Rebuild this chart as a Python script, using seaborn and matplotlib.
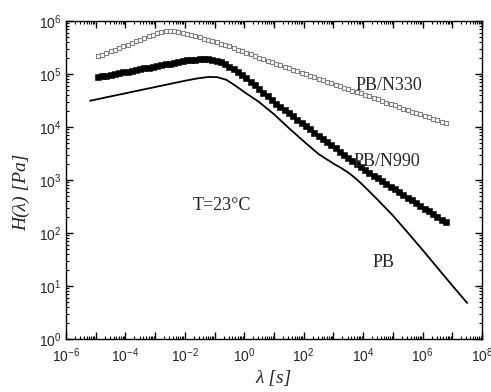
import matplotlib
matplotlib.use("Agg")
import matplotlib.pyplot as plt
import matplotlib.ticker as mticker
import numpy as np
import pandas as pd
import seaborn as sns

# ---------------- data ----------------
# relaxation times shared by the two marker series [s]
lam_markers = [
    1.18e-5, 1.63e-5, 2.27e-5, 3.15e-5, 4.38e-5, 6.09e-5, 8.46e-5,
    1.18e-4, 1.63e-4, 2.27e-4, 3.15e-4, 4.38e-4, 6.09e-4, 8.46e-4,
    1.18e-3, 1.63e-3, 2.27e-3, 3.15e-3, 4.38e-3, 6.09e-3, 8.46e-3,
    1.18e-2, 1.63e-2, 2.27e-2, 3.15e-2, 4.38e-2, 6.09e-2, 8.46e-2,
    1.18e-1, 1.63e-1, 2.27e-1, 3.15e-1, 4.38e-1, 6.09e-1, 8.46e-1,
    1.18e0, 1.63e0, 2.27e0, 3.15e0, 4.38e0, 6.09e0, 8.46e0,
    1.18e1, 1.63e1, 2.27e1, 3.15e1, 4.38e1, 6.09e1, 8.46e1,
    1.18e2, 1.63e2, 2.27e2, 3.15e2, 4.38e2, 6.09e2, 8.46e2,
    1.18e3, 1.63e3, 2.27e3, 3.15e3, 4.38e3, 6.09e3, 8.46e3,
    1.18e4, 1.63e4, 2.27e4, 3.15e4, 4.38e4, 6.09e4, 8.46e4,
    1.18e5, 1.63e5, 2.27e5, 3.15e5, 4.38e5, 6.09e5, 8.46e5,
    1.18e6, 1.63e6, 2.27e6, 3.15e6, 4.38e6, 6.09e6,
]

H_N330 = [
    2.16e5, 2.33e5, 2.50e5, 2.69e5, 2.89e5, 3.10e5, 3.34e5,
    3.59e5, 3.86e5, 4.15e5, 4.47e5, 4.79e5, 5.13e5, 5.50e5,
    5.85e5, 6.18e5, 6.40e5, 6.46e5, 6.40e5, 6.19e5, 5.94e5,
    5.68e5, 5.41e5, 5.15e5, 4.90e5, 4.65e5, 4.42e5, 4.19e5,
    3.96e5, 3.73e5, 3.52e5, 3.31e5, 3.10e5, 2.90e5, 2.72e5,
    2.54e5, 2.36e5, 2.20e5, 2.04e5, 1.91e5, 1.79e5, 1.68e5,
    1.57e5, 1.47e5, 1.38e5, 1.29e5, 1.21e5, 1.13e5, 1.06e5,
    9.91e4, 9.27e4, 8.69e4, 8.13e4, 7.62e4, 7.13e4, 6.68e4,
    6.27e4, 5.89e4, 5.52e4, 5.19e4, 4.88e4, 4.58e4, 4.31e4,
    4.04e4, 3.78e4, 3.54e4, 3.31e4, 3.10e4, 2.90e4, 2.72e4,
    2.55e4, 2.38e4, 2.23e4, 2.09e4, 1.96e4, 1.85e4, 1.73e4,
    1.63e4, 1.53e4, 1.44e4, 1.35e4, 1.26e4, 1.19e4,
]

H_N990 = [
    8.71e4, 9.02e4, 9.35e4, 9.68e4, 1.00e5, 1.04e5, 1.08e5,
    1.11e5, 1.15e5, 1.19e5, 1.24e5, 1.28e5, 1.32e5, 1.37e5,
    1.42e5, 1.47e5, 1.52e5, 1.57e5, 1.63e5, 1.69e5, 1.75e5,
    1.80e5, 1.84e5, 1.87e5, 1.92e5, 1.91e5, 1.91e5, 1.86e5,
    1.77e5, 1.66e5, 1.52e5, 1.38e5, 1.22e5, 1.08e5, 9.51e4,
    8.28e4, 7.11e4, 6.11e4, 5.25e4, 4.47e4, 3.78e4, 3.21e4,
    2.76e4, 2.40e4, 2.09e4, 1.82e4, 1.58e4, 1.37e4, 1.19e4,
    1.04e4, 9.04e3, 7.85e3, 6.84e3, 5.97e3, 5.20e3, 4.53e3,
    3.94e3, 3.45e3, 3.01e3, 2.63e3, 2.30e3, 2.01e3, 1.76e3,
    1.55e3, 1.37e3, 1.21e3, 1.07e3, 953, 847, 752,
    667, 590, 522, 462, 411, 366, 324,
    288, 255, 225, 200, 178, 158,
]

lam_PB = [6.46e-6, 1e-4, 1e-3, 1e-2, 2.51e-2, 6.31e-2, 0.126, 0.251, 0.501,
          1.0, 3.16, 10, 31.6, 100, 316, 1e3, 1.78e3, 3.16e3, 5.62e3, 1e4,
          3.16e4, 1e5, 3.16e5, 1e6, 3.16e6, 1e7, 3.16e7]
H_PB = [3.13e4, 4.33e4, 5.68e4, 7.45e4, 8.22e4, 8.81e4, 8.71e4, 7.76e4, 6.03e4,
        4.57e4, 2.95e4, 1.74e4, 9.55e3, 5.37e3, 3.09e3, 2.04e3, 1.70e3, 1.38e3,
        1.07e3, 794, 417, 214, 102, 47.9, 22.1, 10.2, 4.79]

series_labels = ["PB/N330", "PB/N990", "PB"]
annotation = "T=23°C"
x_label = "λ [s]"
y_label = "H(λ) [Pa]"

# ---------------- figure ----------------
sns.set_style("ticks")
plt.rcParams["font.family"] = ["Liberation Serif", "DejaVu Serif"]
plt.rcParams["mathtext.default"] = "regular"

fig, ax = plt.subplots(figsize=(4.91, 3.92), dpi=100)
fig.subplots_adjust(left=0.1344, right=0.9817, top=0.9464, bottom=0.1352)

df330 = pd.DataFrame({"lam": lam_markers, "H": H_N330})
df990 = pd.DataFrame({"lam": lam_markers, "H": H_N990})
dfpb = pd.DataFrame({"lam": lam_PB, "H": H_PB})

sns.lineplot(data=dfpb, x="lam", y="H", ax=ax, color="black", lw=1.3,
             sort=False, estimator=None)
sns.scatterplot(data=df990, x="lam", y="H", ax=ax, marker="s", s=15,
                color="black", edgecolor="black", linewidth=0.4, zorder=3)
sns.scatterplot(data=df330, x="lam", y="H", ax=ax, marker="s", s=11,
                facecolor="white", edgecolor="#808080", linewidth=0.8, zorder=3)

ax.set_xscale("log")
ax.set_yscale("log")
ax.set_xlim(1e-6, 1e8)
ax.set_ylim(1e0, 1e6)

xt = [10.0 ** k for k in range(-6, 9)]
ax.set_xticks(xt)
ax.set_xticklabels([r"$10^{%d}$" % k if k % 2 == 0 else "" for k in range(-6, 9)])
yt = [10.0 ** k for k in range(0, 7)]
ax.set_yticks(yt)
ax.set_yticklabels([r"$10^{%d}$" % k for k in range(0, 7)])
ax.xaxis.set_minor_locator(mticker.LogLocator(base=10, subs=np.arange(2, 10), numticks=40))
ax.yaxis.set_minor_locator(mticker.LogLocator(base=10, subs=np.arange(2, 10), numticks=40))
ax.xaxis.set_minor_formatter(mticker.NullFormatter())
ax.yaxis.set_minor_formatter(mticker.NullFormatter())

ax.tick_params(which="both", direction="in", top=True, right=True, color="black")
ax.tick_params(which="major", length=5, width=1.0)
ax.tick_params(which="minor", length=2.5, width=0.8)
for lbl in ax.get_xticklabels() + ax.get_yticklabels():
    lbl.set_family(["Liberation Sans Narrow", "Liberation Sans"])
    lbl.set_fontsize(10)
ax.tick_params(axis="x", pad=5)
ax.tick_params(axis="y", pad=3)

for sp in ax.spines.values():
    sp.set_color("black")
    sp.set_linewidth(1.0)

ax.set_xlabel(x_label, fontsize=14, fontstyle="italic")
ax.set_ylabel(y_label, fontsize=14, fontstyle="italic")
ax.xaxis.set_label_coords(0.5, -0.097)
ax.yaxis.set_label_coords(-0.085, 0.46)

ax.text(0.775, 0.797, series_labels[0], transform=ax.transAxes, fontsize=13,
        ha="center", va="center")
ax.text(0.772, 0.558, series_labels[1], transform=ax.transAxes, fontsize=13,
        ha="center", va="center")
ax.text(0.763, 0.241, series_labels[2], transform=ax.transAxes, fontsize=13,
        ha="center", va="center")
ax.text(0.375, 0.421, annotation, transform=ax.transAxes, fontsize=13,
        ha="center", va="center")

fig.savefig("out.png", dpi=100, facecolor="white")
